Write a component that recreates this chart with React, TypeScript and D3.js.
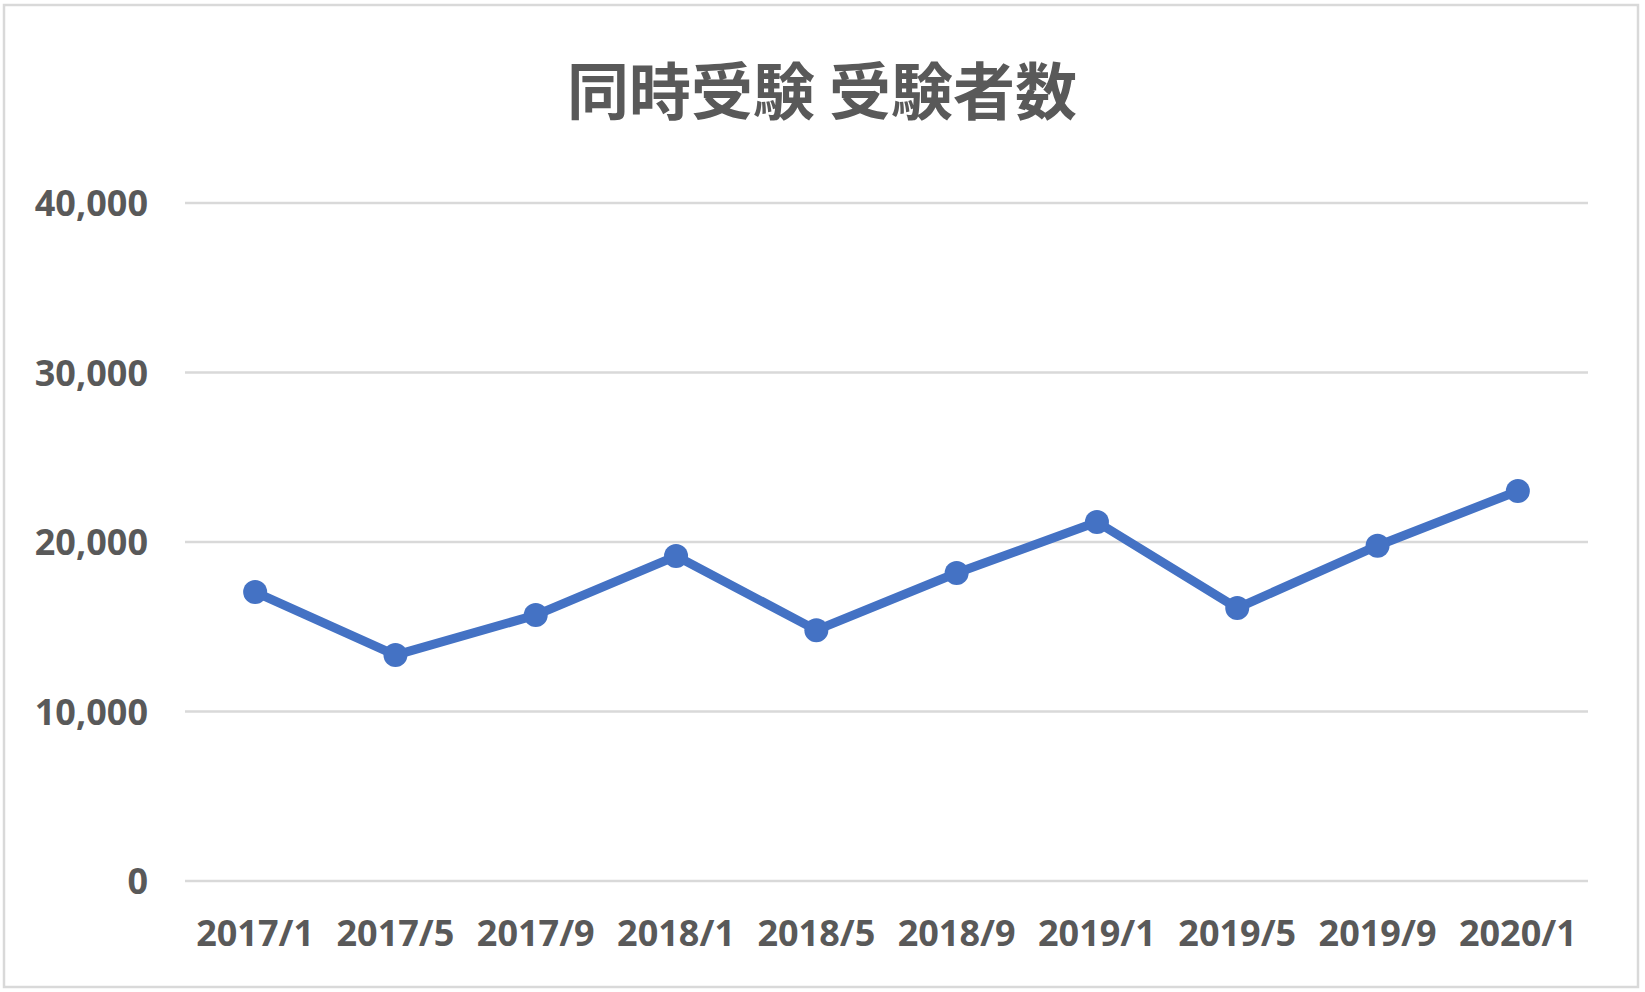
import React from 'react';
import * as d3 from 'd3';

const title = '同時受験 受験者数';
const categories = ['2017/1', '2017/5', '2017/9', '2018/1', '2018/5', '2018/9', '2019/1', '2019/5', '2019/9', '2020/1'];
const examinees = [17050, 13330, 15690, 19170, 14800, 18170, 21180, 16100, 19780, 23010];
const yTicks = [0, 10000, 20000, 30000, 40000];

const width = 1645;
const height = 992;
const margin = { left: 185, right: 57, top: 203, bottom: 111 };
const textColor = '#595959';
const gridColor = '#d9d9d9';
const lineColor = '#4472c4';
const labelFont = '"Noto Sans", "DejaVu Sans", sans-serif';

export default function App() {
  const x = d3.scaleBand<string>()
    .domain(categories)
    .range([margin.left, width - margin.right]);

  const y = d3.scaleLinear()
    .domain([0, 40000])
    .range([height - margin.bottom, margin.top]);

  const fmt = d3.format(',');

  const line = d3.line<number>()
    .x((_, i) => (x(categories[i]) ?? 0) + x.bandwidth() / 2)
    .y(d => y(d));

  return (
    <svg
      width={width}
      height={height}
      style={{ position: 'absolute', left: 0, top: 0, background: '#fff' }}
    >
      <rect x={4} y={5} width={1634} height={982} fill="#fff" stroke={gridColor} strokeWidth={2.5} />

      <text
        x={822}
        y={115}
        textAnchor="middle"
        fill={textColor}
        style={{ fontFamily: '"Noto Sans CJK JP", sans-serif', fontSize: 62, fontWeight: 700 }}
      >
        {title}
      </text>

      {yTicks.map(t => (
        <g key={t}>
          <line
            x1={margin.left}
            x2={width - margin.right}
            y1={y(t)}
            y2={y(t)}
            stroke={gridColor}
            strokeWidth={2.5}
          />
          <text
            x={148}
            y={y(t) + 13}
            textAnchor="end"
            fill={textColor}
            style={{ fontFamily: labelFont, fontSize: 36, fontWeight: 700 }}
          >
            {fmt(t)}
          </text>
        </g>
      ))}

      {categories.map(c => (
        <text
          key={c}
          x={(x(c) ?? 0) + x.bandwidth() / 2}
          y={946}
          textAnchor="middle"
          fill={textColor}
          style={{ fontFamily: labelFont, fontSize: 36, fontWeight: 700 }}
        >
          {c}
        </text>
      ))}

      <path
        d={line(examinees) ?? ''}
        fill="none"
        stroke={lineColor}
        strokeWidth={9}
        strokeLinejoin="round"
      />

      {examinees.map((v, i) => (
        <circle
          key={categories[i]}
          cx={(x(categories[i]) ?? 0) + x.bandwidth() / 2}
          cy={y(v)}
          r={12}
          fill={lineColor}
        />
      ))}
    </svg>
  );
}
